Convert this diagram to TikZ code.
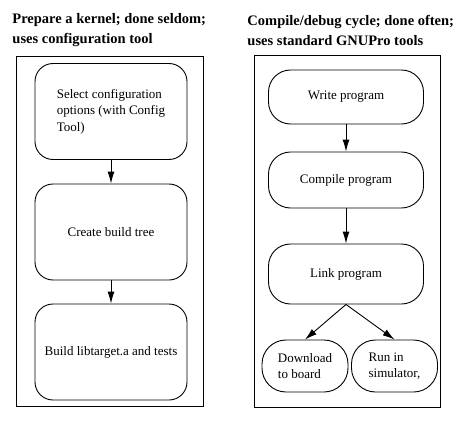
\documentclass[tikz,border=0pt]{standalone}
\usepackage{fontspec}
\setmainfont{Liberation Serif}
\usetikzlibrary{positioning,arrows.meta}

\begin{document}
\begin{tikzpicture}[x=1pt,y=1pt,line width=0.9pt,
     font=\fontsize{13}{16.5}\selectfont,
     title/.style = {anchor=west, align=left, inner sep=0pt, font=\fontsize{14.5}{20}\selectfont\bfseries},
     frame/.style = {draw},
     block/.style = {draw, rounded corners=18pt, minimum width=152pt, minimum height=96pt, align=left, inner sep=0pt},
     pill/.style = {draw, rounded corners=22pt, minimum width=155pt, minimum height=56pt, inner sep=0pt},
     small/.style = {draw, rounded corners=24pt, minimum width=86pt, minimum height=52pt, align=left, inner sep=0pt},
     arrow/.style = {draw, -{Latex[length=12pt,width=7pt]}}
    ]
    \useasboundingbox (0,0) rectangle (460,-425);

    \node [title] (kerneltitle) at (12,-30) {Prepare a kernel; done seldom;\\uses configuration tool};
    \node [title] (cycletitle) at (247,-30) {Compile/debug cycle; done often;\\uses standard GNUPro tools};

    \draw [frame] (16,-56) rectangle (203,-406);
    \draw [frame] (254,-55) rectangle (440,-407);

    % kernel side
    \node [block] (config) at (111,-111.5) {Select configuration\\options (with Config\\Tool)};
    \node [block, below of=config, node distance=120.5pt] (tree) {Create build tree};
    \node [block, below of=tree, node distance=120pt] (libtarget) {Build libtarget.a and tests};

    % compile/debug side
    \node [pill, minimum height=54pt] (write) at (346,-97) {Write program};
    \node [pill, below of=write, node distance=83pt] (compile) {Compile program};
    \node [pill, below of=compile, node distance=94pt, minimum height=60pt] (link) {Link program};
    \node [small, below of=link, node distance=92pt, xshift=-41pt] (download) {Download\\to board};
    \node [small, right of=download, node distance=89.5pt] (simulate) {Run in\\simulator,};

    \draw [arrow] (config) -- (tree);
    \draw [arrow] (tree) -- (libtarget);
    \draw [arrow] (write) -- (compile);
    \draw [arrow] (compile) -- (link);
    \draw [arrow] (link.south) -- (download.north);
    \draw [arrow] (link.south) -- (simulate.north);

\end{tikzpicture}
\end{document}
